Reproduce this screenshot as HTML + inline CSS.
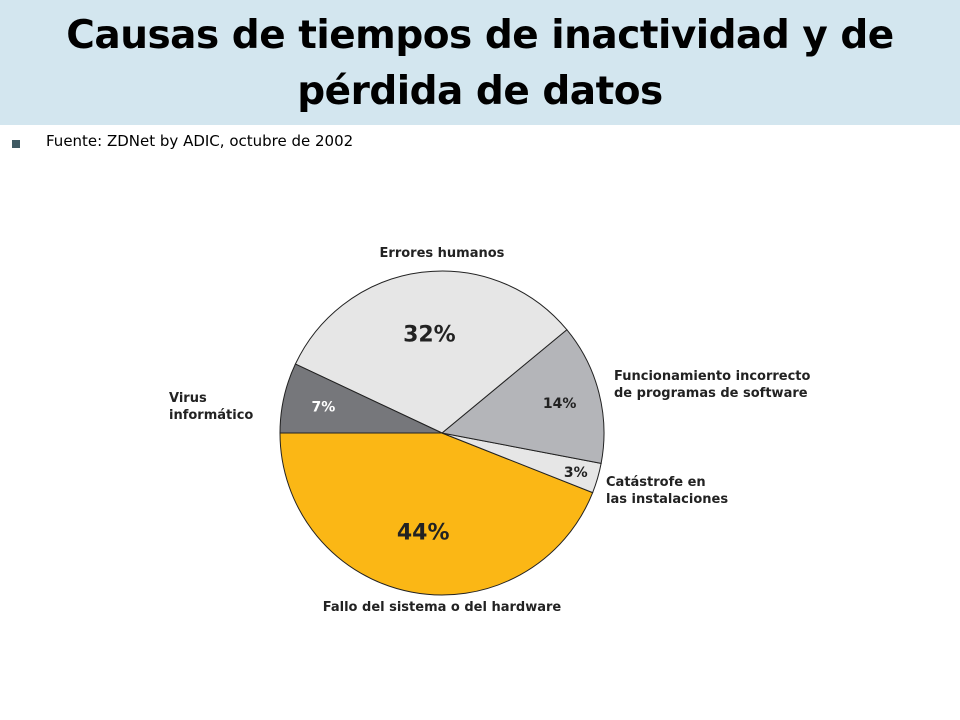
<!DOCTYPE html>
<html><head><meta charset="utf-8"><style>
body{margin:0;width:960px;height:720px;background:#fff;font-family:"DejaVu Sans","Liberation Sans",sans-serif;overflow:hidden;position:relative}
#title{position:absolute;left:0;top:0;width:960px;height:125px;background:#d3e6ef;text-align:center}
#title h1{margin:0;padding-top:8px;font-family:"DejaVu Sans","Liberation Sans",sans-serif;font-weight:bold;font-size:39px;line-height:56px;color:#000;letter-spacing:-0.5px}
#src{position:absolute;left:46px;top:132px;font-size:15px;color:#000}
#bullet{position:absolute;left:12px;top:140px;width:8px;height:8px;background:#3f5a63}
</style></head><body>
<div id="title"><h1>Causas de tiempos de inactividad y de<br>pérdida de datos</h1></div>
<div id="bullet"></div>
<div id="src">Fuente: ZDNet by ADIC, octubre de 2002</div>
<svg id="pie" width="960" height="720" style="position:absolute;left:0;top:0"></svg>
<script>
const categories=["Fallo del sistema o del hardware","Catástrofe en las instalaciones","Funcionamiento incorrecto de programas de software","Errores humanos","Virus informático"];
const values=[44,3,14,32,7];
const labels=["44%","3%","14%","32%","7%"];
const colors=["#fbb715","#e6e6e6","#b4b5b9","#e6e6e6","#76777b"];
const NS="http://www.w3.org/2000/svg";
const svg=document.getElementById('pie');
const cx=442,cy=433,r=162;
const total=values.reduce((a,b)=>a+b,0);
let ang=Math.PI;
function pt(a,rr){return [cx+rr*Math.cos(a),cy+rr*Math.sin(a)];}
values.forEach((v,i)=>{
  const sweep=v/total*2*Math.PI;
  const a0=ang,a1=ang-sweep;
  const p0=pt(a0,r),p1=pt(a1,r);
  const large=sweep>Math.PI?1:0;
  const path=document.createElementNS(NS,'path');
  path.setAttribute('d',`M${cx},${cy}L${p0[0]},${p0[1]}A${r},${r} 0 ${large} 0 ${p1[0]},${p1[1]}Z`);
  path.setAttribute('fill',colors[i]);
  path.setAttribute('stroke','#222');
  path.setAttribute('stroke-width','1');
  
  
  svg.appendChild(path);
  const mid=(a0+a1)/2;
  const big=v>=30;
  const rr=v<5?0.86*r:(big?0.62*r:0.75*r);
  const lp=pt(mid,rr);
  const t=document.createElementNS(NS,'text');
  t.setAttribute('x',lp[0]);t.setAttribute('y',lp[1]+(big?8:5));
  t.setAttribute('text-anchor','middle');
  t.setAttribute('font-family','DejaVu Sans, Liberation Sans, sans-serif');
  t.setAttribute('font-weight','bold');
  t.setAttribute('font-size',big?22:14);
  t.setAttribute('fill',i===4?'#fff':'#222');
  t.textContent=labels[i];
  
  
  svg.appendChild(t);
  ang=a1;
});
const cats=[
 {lines:["Fallo del sistema o del hardware"],x:442,y:611,anchor:"middle"},
 {lines:["Catástrofe en","las instalaciones"],x:606,y:486,anchor:"start"},
 {lines:["Funcionamiento incorrecto","de programas de software"],x:614,y:380,anchor:"start"},
 {lines:["Errores humanos"],x:442,y:257,anchor:"middle"},
 {lines:["Virus","informático"],x:169,y:402,anchor:"start"}
];
cats.forEach((c,i)=>{
  const t=document.createElementNS(NS,'text');
  t.setAttribute('x',c.x);t.setAttribute('y',c.y);
  t.setAttribute('text-anchor',c.anchor);
  t.setAttribute('font-family','DejaVu Sans, Liberation Sans, sans-serif');
  t.setAttribute('font-weight','bold');
  t.setAttribute('font-size','13');
  t.setAttribute('fill','#222');
  c.lines.forEach((l,j)=>{
    const s=document.createElementNS(NS,'tspan');
    s.setAttribute('x',c.x);s.setAttribute('dy',j?17:0);
    s.textContent=l;t.appendChild(s);
  });
  
  
  svg.appendChild(t);
});
</script>
</body></html>
